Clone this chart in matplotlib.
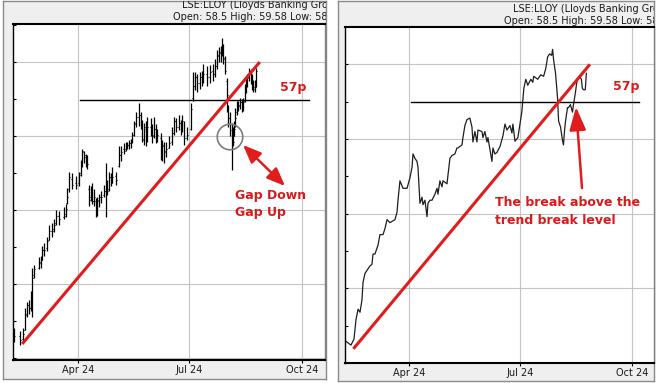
import matplotlib
matplotlib.use("Agg")
import matplotlib.pyplot as plt
import matplotlib.dates as mdates
from matplotlib.patches import Ellipse
import numpy as np

plt.rcParams['font.family'] = ['DejaVu Sans']

# ---------------- data ----------------
# trading-day positions, in days counted from 1 Apr 2024
day_from_apr1 = [
    -52.5, -47.6, -45.1, -43.5, -41.8, -40.2, -38.6, -37.7, -36.1, -32.0,
    -30.4, -29.5, -27.9, -25.4, -23.8, -21.3, -19.7, -18.0, -15.6, -11.5,
    -9.8, -9.0, -7.4, -4.9, -1.6, 0.8, 2.5, 3.3, 4.9, 6.6,
    7.4, 9.0, 10.7, 11.5, 13.1, 14.8, 15.6, 17.2, 18.9, 21.3,
    23.0, 23.8, 25.4, 27.1, 27.9, 31.2, 33.6, 35.3, 37.7, 39.4,
    40.2, 41.8, 43.5, 44.3, 45.9, 47.6, 50.0, 51.7, 52.5, 54.1,
    55.8, 56.6, 59.9, 60.7, 62.3, 64.0, 64.8, 68.1, 68.9, 70.5,
    72.2, 74.7, 77.1, 78.8, 80.4, 82.9, 84.5, 85.3, 87.0, 89.4,
    92.6, 94.3, 95.9, 97.5, 100.0, 101.6, 102.4, 105.7, 108.1, 110.5,
    112.2, 113.8, 115.4, 117.1, 117.9, 118.7, 120.3, 121.9, 122.8, 124.4,
    126.0, 126.8, 127.6, 128.5, 130.1, 130.9, 132.5, 134.2, 135.0, 136.6,
    137.4, 138.2, 139.9, 141.5, 142.3, 143.1, 144.7, 145.6]

close = [
    41.5, 41.2, 41.6, 42.9, 43.6, 43.4, 44.2, 45.4, 46.0, 46.5,
    46.6, 47.3, 47.3, 47.9, 48.6, 48.6, 49.0, 49.6, 49.4, 49.6,
    50.1, 50.9, 52.2, 51.7, 51.7, 52.4, 53.1, 54.0, 53.7, 53.5,
    53.1, 50.7, 51.1, 50.6, 50.9, 49.8, 50.7, 50.9, 50.9, 51.3,
    51.7, 51.3, 52.2, 51.8, 52.2, 52.0, 53.7, 53.9, 54.0, 54.4,
    54.4, 54.5, 54.6, 55.1, 55.9, 56.3, 56.4, 55.8, 54.8, 55.5,
    54.8, 55.6, 55.5, 55.1, 55.5, 54.8, 55.1, 53.5, 54.4, 54.0,
    54.1, 54.5, 55.2, 56.0, 55.6, 55.9, 55.4, 56.0, 54.85, 55.1,
    56.8, 58.4, 59.0, 58.6, 59.0, 58.8, 59.2, 59.0, 59.3, 59.2,
    59.7, 60.5, 60.7, 60.6, 61.0, 60.3, 59.4, 57.8, 56.2, 55.8,
    54.9, 54.6, 55.5, 56.2, 57.1, 57.1, 57.3, 56.8, 57.3, 58.1,
    58.6, 59.0, 59.2, 59.0, 58.4, 58.3, 58.3, 59.4]

high = [
    42.0, 41.8, 42.0, 43.4, 43.8, 43.9, 44.5, 46.1, 46.3, 46.8,
    46.9, 47.6, 47.8, 48.2, 49.0, 49.1, 49.4, 50.0, 49.9, 50.2,
    50.4, 51.5, 52.6, 52.5, 52.3, 52.6, 53.4, 54.1, 54.0, 53.8,
    53.7, 51.7, 51.6, 51.8, 51.4, 50.8, 50.9, 51.1, 51.3, 51.7,
    53.2, 52.0, 52.6, 52.5, 52.9, 52.6, 54.3, 54.3, 54.5, 54.6,
    54.6, 54.7, 54.8, 55.3, 56.0, 56.6, 57.2, 56.6, 56.1, 55.9,
    56.0, 56.3, 56.2, 55.8, 56.3, 55.8, 55.5, 55.2, 54.7, 54.6,
    54.6, 55.0, 55.6, 56.3, 56.2, 56.4, 56.1, 56.4, 56.0, 55.6,
    57.2, 59.3, 59.3, 59.2, 59.3, 59.4, 59.9, 59.7, 59.8, 59.9,
    60.2, 60.8, 61.0, 61.1, 61.6, 61.2, 60.4, 58.9, 57.1, 56.6,
    55.9, 55.6, 56.0, 56.9, 57.4, 57.4, 57.6, 57.5, 57.6, 58.5,
    58.9, 59.2, 59.6, 59.5, 59.2, 58.8, 58.8, 59.58]

low = [
    41.1, 40.9, 41.1, 41.9, 42.8, 43.0, 43.2, 42.8, 45.4, 46.0,
    46.1, 46.6, 46.9, 47.2, 48.0, 48.2, 48.5, 49.0, 49.0, 49.4,
    49.5, 50.4, 51.2, 51.4, 51.4, 51.6, 52.3, 52.9, 53.2, 52.9,
    52.8, 50.3, 50.6, 50.4, 50.3, 49.5, 49.6, 50.2, 50.5, 50.9,
    49.5, 51.0, 51.3, 51.6, 51.8, 51.7, 52.9, 53.3, 53.8, 54.0,
    54.1, 54.1, 54.2, 54.5, 55.0, 55.6, 55.7, 55.5, 54.6, 54.4,
    54.3, 54.6, 55.0, 54.5, 54.9, 54.5, 54.6, 53.4, 53.3, 53.2,
    53.6, 54.2, 54.4, 55.1, 55.3, 55.4, 55.1, 55.3, 54.4, 54.7,
    55.4, 57.4, 58.1, 58.0, 58.2, 58.4, 58.6, 58.4, 58.6, 58.7,
    59.0, 59.5, 60.0, 60.0, 60.4, 59.9, 59.2, 56.6, 55.6, 55.0,
    52.7, 54.3, 55.0, 55.6, 56.4, 56.7, 56.8, 56.6, 56.7, 57.3,
    57.9, 58.3, 58.7, 58.5, 58.1, 58.0, 58.0, 58.3]

open_ = [
    41.7, 41.5, 41.3, 41.9, 43.0, 43.6, 43.4, 44.0, 45.6, 46.1,
    46.4, 46.7, 47.3, 47.4, 48.0, 48.6, 48.7, 49.1, 49.6, 49.5,
    49.7, 50.5, 51.4, 52.1, 51.8, 51.8, 52.5, 53.1, 53.9, 53.6,
    53.4, 51.4, 50.9, 51.2, 50.6, 50.6, 49.9, 50.6, 50.9, 51.0,
    51.3, 51.7, 51.4, 52.2, 51.9, 52.3, 53.0, 53.7, 54.1, 54.1,
    54.4, 54.4, 54.5, 54.6, 55.1, 55.8, 56.3, 56.4, 55.9, 54.7,
    55.6, 54.9, 55.6, 55.5, 55.0, 55.5, 54.8, 54.9, 53.6, 54.3,
    53.9, 54.2, 54.6, 55.2, 56.0, 55.6, 55.9, 55.4, 55.9, 54.9,
    55.5, 57.6, 58.4, 59.0, 58.6, 59.0, 58.8, 59.2, 59.0, 59.4,
    59.2, 59.7, 60.4, 60.6, 60.6, 61.0, 60.2, 58.7, 57.0, 56.2,
    55.4, 54.8, 55.0, 55.8, 56.6, 57.0, 57.0, 57.3, 56.9, 57.4,
    58.0, 58.5, 58.9, 59.2, 59.0, 58.4, 58.2, 58.5]

tick_days = [0, 91, 183]
tick_labels = ['Apr 24', 'Jul 24', 'Oct 24']
trend_days = [-45.6, 148.5]
trend_vals = [40.95, 60.0]
level_days = [1.6, 189.0]
level_val = 57.45
title_1 = 'LSE:LLOY (Lloyds Banking Group)'
title_2 = 'Open: 58.5 High: 59.58 Low: 58.'

# ---------------- figure ----------------
W, H = 656, 383
fig = plt.figure(figsize=(W / 100, H / 100), dpi=100)
fig.patch.set_facecolor('white')

RED = '#e01c1c'
TRED = '#d81a1a'
base = mdates.datestr2num('2024-04-01')
xd = base + np.array(day_from_apr1)


def px_axes(x0, y0, x1, y1, **kw):
    return fig.add_axes([x0 / W, 1 - y1 / H, (x1 - x0) / W, (y1 - y0) / H], **kw)


def make_panel(bg_box, plot_box, xlim_days, ylim, tpos):
    bg = px_axes(*bg_box)
    bg.set_zorder(0)
    bg.set_facecolor('#efefef')
    bg.set_xticks([]); bg.set_yticks([])
    for s in bg.spines.values():
        s.set_color('#8a8a8a'); s.set_linewidth(1.0)
    bg.set_xlim(bg_box[0], bg_box[2]); bg.set_ylim(bg_box[3], bg_box[1])
    (tx1, ty1), (tx2, ty2) = tpos
    bg.text(tx1, ty1, title_1, fontsize=7, color='#1a1a1a', ha='left',
            va='baseline', clip_on=True)
    bg.text(tx2, ty2, title_2, fontsize=7, color='#1a1a1a', ha='left',
            va='baseline', clip_on=True)

    ax = px_axes(*plot_box)
    ax.set_zorder(1)
    ax.set_facecolor('white')
    ax.set_xlim(base + xlim_days[0], base + xlim_days[1])
    ax.set_ylim(*ylim)
    ax.set_xticks([base + d for d in tick_days])
    ax.set_xticklabels(tick_labels)
    ax.set_yticks([40, 45, 50, 55, 60])
    ax.set_yticks([42.5, 47.5, 52.5, 57.5, 62.5], minor=True)
    ax.set_yticklabels([])
    ax.grid(True, which='major', color='#c4c4c4', lw=0.8)
    ax.set_axisbelow(True)
    ax.tick_params(axis='x', direction='out', length=2, width=0.8,
                   pad=1.5, labelsize=7, labelcolor='#1a1a1a')
    ax.tick_params(axis='y', which='both', direction='in', length=2.5,
                   width=0.8, left=True, labelleft=False)
    for k in ('top', 'bottom'):
        ax.spines[k].set_color('black'); ax.spines[k].set_linewidth(1.5)
    ax.spines['left'].set_color('black'); ax.spines['left'].set_linewidth(1.0)
    ax.spines['right'].set_color('#808080'); ax.spines['right'].set_linewidth(1.0)
    return ax


# left panel: OHLC bars
axL = make_panel((3, 1, 326, 379), (13, 24, 325, 360), (-53.1, 201.8),
                 (39.865, 62.57), ((182, 8.5), (173, 20.5)))
axL.vlines(xd, low, high, color='black', lw=0.9, zorder=2)
axL.hlines(open_, xd - 0.8, xd, color='black', lw=0.8, zorder=2)
axL.hlines(close, xd, xd + 0.8, color='black', lw=0.8, zorder=2)
axL.plot([base + d for d in level_days], [level_val, level_val],
         color='black', lw=1.0, zorder=3)
axL.plot([base + d for d in trend_days], trend_vals, color=RED, lw=2.2,
         solid_capstyle='butt', zorder=4)

# right panel: close line
axR = make_panel((338, 1, 654, 381), (345, 27, 654, 363), (-52.5, 201.1),
                 (40.10, 62.02), ((513, 11.5), (504, 23.5)))
axR.plot(xd, close, color='#1e1e1e', lw=0.9, zorder=2)
axR.plot([base + d for d in level_days], [level_val, level_val],
         color='black', lw=1.0, zorder=3)
axR.plot([base + d for d in trend_days], trend_vals, color=RED, lw=2.2,
         solid_capstyle='butt', zorder=4)

# overlay for annotations (pixel coordinates)
ov = fig.add_axes([0, 0, 1, 1])
ov.set_zorder(5)
ov.set_xlim(0, W); ov.set_ylim(H, 0)
ov.axis('off'); ov.patch.set_alpha(0)

ov.add_patch(Ellipse((230, 137), 25.5, 25.5, fill=False, ec='#7c7c7c', lw=1.2))
ov.annotate('', xy=(243, 145), xytext=(285, 186),
            arrowprops=dict(arrowstyle='<|-|>,head_length=1.1,head_width=0.45',
                            lw=1.8, color=RED, shrinkA=0, shrinkB=0))
ov.annotate('', xy=(576, 107), xytext=(582, 188),
            arrowprops=dict(arrowstyle='-|>,head_length=1.4,head_width=0.5',
                            lw=1.8, color=RED, shrinkA=0, shrinkB=0))

tkw = dict(fontsize=9, fontweight='bold', color=TRED, ha='left', va='baseline')
ov.text(280, 91.5, '57p', **tkw)
ov.text(613, 90, '57p', **tkw)
ov.text(235, 198.5, 'Gap Down', **tkw)
ov.text(235, 216, 'Gap Up', **tkw)
ov.text(495, 206.5, 'The break above the', **tkw)
ov.text(495, 223.5, 'trend break level', **tkw)

fig.savefig('out.png', dpi=100, facecolor='white')
